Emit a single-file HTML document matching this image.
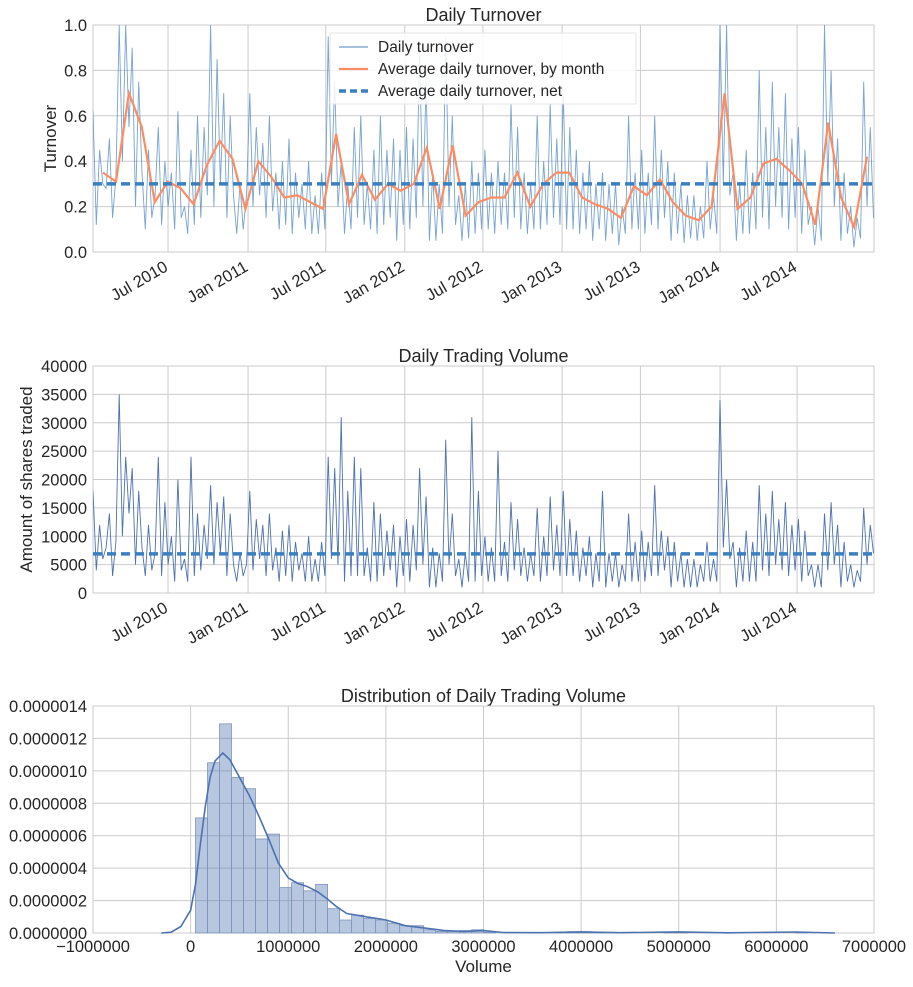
<!DOCTYPE html>
<html><head><meta charset="utf-8"><style>
body{margin:0;background:#fff;}
svg text{font-family:"Liberation Sans","DejaVu Sans",sans-serif;fill:#262626;}
</style></head><body>
<svg id="c" width="913" height="982" xmlns="http://www.w3.org/2000/svg"></svg>
<script>
const monthlyAvg=[.35,.31,.70,.55,.22,.31,.28,.21,.38,.49,.41,.19,.40,.33,.24,.25,.22,.19,.52,.21,.34,.23,.30,.27,.30,.46,.19,.47,.16,.22,.24,.24,.35,.20,.30,.35,.35,.24,.21,.19,.15,.29,.25,.32,.22,.16,.14,.20,.70,.19,.24,.39,.41,.36,.30,.12,.57,.24,.11,.42];
const netTurnover=0.30;
const netVolume=6900;
const dailyTurnover=[.62,.12,.45,.30,.28,.50,.15,.33,1.0,.40,1.0,.55,.90,.20,.75,.35,.10,.45,.15,.25,.55,.12,.40,.20,.35,.10,.62,.15,.20,.08,.45,.12,.60,.15,.55,.25,1.0,.20,.85,.30,.70,.15,.60,.25,.08,.30,.10,.25,.70,.20,.55,.25,.48,.15,.60,.18,.35,.10,.40,.12,.50,.08,.35,.15,.30,.10,.40,.08,.25,.08,.35,.10,.95,.30,.75,.20,.40,.08,.30,.10,.55,.15,.60,.12,.30,.10,.45,.08,.60,.12,.45,.15,.50,.05,.45,.12,.55,.10,.50,.15,.90,.20,.75,.05,.35,.05,.30,.08,.95,.20,.60,.12,.25,.05,.30,.06,.40,.08,.35,.10,.45,.10,.35,.08,.40,.12,.35,.10,.65,.15,.55,.10,.35,.08,.30,.10,.60,.10,.40,.12,.65,.15,.50,.12,.70,.10,.55,.10,.45,.08,.35,.10,.40,.05,.30,.10,.35,.05,.30,.08,.30,.03,.20,.08,.60,.10,.35,.10,.45,.08,.35,.12,.60,.10,.45,.15,.40,.05,.35,.08,.30,.04,.25,.06,.25,.05,.20,.06,.40,.10,.25,.08,1.0,.30,1.0,.25,.35,.05,.30,.08,.45,.08,.35,.10,.80,.15,.55,.10,.75,.20,.55,.15,.70,.10,.50,.15,.55,.08,.45,.12,.20,.03,.20,.05,1.0,.30,.80,.20,.50,.05,.35,.08,.20,.02,.15,.06,.75,.20,.55,.15];
const dailyVolume=[18000,4000,12000,6000,8000,14000,3000,9000,35000,10000,24000,14000,22000,5000,18000,8000,3000,12000,4000,7000,24000,3000,16000,5000,10000,2000,20000,4000,6000,2000,24000,3000,14000,4000,12000,6000,19000,5000,16000,7000,17000,3000,14000,5000,2000,7000,3000,5000,18000,4000,13000,6000,12000,3000,14000,4000,8000,2000,11000,3000,12000,2000,9000,4000,7000,2000,10000,2000,6000,2000,9000,3000,24000,6000,22000,5000,31000,2000,18000,3000,24000,3000,22000,3000,8000,2000,16000,2000,14000,3000,11000,4000,12000,1000,10000,3000,13000,2000,12000,4000,22000,5000,17000,1000,8000,1000,7000,2000,27000,5000,14000,3000,6000,1000,7000,2000,31000,2000,18000,3000,10000,2000,8000,2000,25000,3000,9000,2000,16000,4000,13000,3000,8000,2000,7000,3000,15000,2000,10000,3000,17000,4000,12000,3000,18000,3000,13000,3000,11000,2000,8000,3000,10000,1000,7000,2000,18000,1000,7000,2000,7000,1000,5000,2000,14000,2000,9000,2000,11000,2000,9000,3000,19000,3000,11000,4000,10000,1000,9000,2000,7000,1000,6000,1000,6000,1000,5000,2000,9000,2000,6000,2000,34000,8000,20000,6000,9000,1000,8000,2000,11000,2000,9000,2000,19000,4000,14000,3000,18000,5000,13000,4000,16000,3000,12000,4000,13000,2000,11000,3000,5000,1000,5000,1000,14000,4000,16000,5000,12000,1000,9000,2000,5000,1000,4000,2000,15000,5000,12000,7000];
const xTickLabels=["Jul 2010","Jan 2011","Jul 2011","Jan 2012","Jul 2012","Jan 2013","Jul 2013","Jan 2014","Jul 2014"];
const xTickMonths=[5.02,11.2,17.2,23.3,29.34,35.45,41.5,47.65,53.6];
const turnoverTicks=[0,0.2,0.4,0.6,0.8,1.0];
const volumeTicks=[0,5000,10000,15000,20000,25000,30000,35000,40000];
const histBinStart=50000, histBinWidth=123000;
const histDensity=[7.1e-7,10.5e-7,12.9e-7,9.6e-7,8.9e-7,5.8e-7,6.1e-7,2.8e-7,3.1e-7,2.6e-7,3.0e-7,1.5e-7,0.8e-7,1.1e-7,0.9e-7,0.8e-7,0.6e-7,0.45e-7,0.45e-7,0.2e-7,0.1e-7,0.1e-7,0.15e-7,0.2e-7,0.05e-7,0,0,0,0,0,0.05e-7,0.08e-7,0.08e-7,0.05e-7,0,0,0,0,0,0.05e-7,0.06e-7,0,0,0,0,0,0,0,0,0,0.06e-7];
const kdeX=[-300000,-200000,-100000,0,50000,100000,150000,200000,250000,330000,400000,500000,600000,700000,800000,900000,1000000,1100000,1200000,1300000,1400000,1500000,1600000,1800000,2000000,2200000,2400000,2600000,2800000,3000000,3200000,3600000,4000000,4400000,5000000,5500000,6200000,6600000];
const kdeY=[0,0.05e-7,0.4e-7,1.4e-7,3e-7,5.5e-7,7.8e-7,9.6e-7,10.6e-7,11.1e-7,10.7e-7,9.6e-7,8.5e-7,7.2e-7,5.8e-7,4.3e-7,3.4e-7,3.05e-7,2.85e-7,2.55e-7,2.1e-7,1.6e-7,1.2e-7,1.0e-7,0.8e-7,0.45e-7,0.3e-7,0.15e-7,0.1e-7,0.15e-7,0.03e-7,0.02e-7,0.07e-7,0.02e-7,0.07e-7,0.01e-7,0.06e-7,0];
const histXTicks=[-1000000,0,1000000,2000000,3000000,4000000,5000000,6000000,7000000];
const histYTicks=[0,2e-7,4e-7,6e-7,8e-7,10e-7,12e-7,14e-7];
const histYLabels=["0.0000000","0.0000002","0.0000004","0.0000006","0.0000008","0.0000010","0.0000012","0.0000014"];

const svg=document.getElementById('c');
const NS='http://www.w3.org/2000/svg';
function mk(tag,attrs,parent,text){const e=document.createElementNS(NS,tag);for(const k in attrs)e.setAttribute(k,attrs[k]);if(text!==undefined)e.textContent=text;(parent||svg).appendChild(e);return e;}
const L=93,R=874;
const xMonth=t=>103+t*12.95;
const dailyT=(i,n)=>-0.77+i*(59.5+0.77)/(n-1);

function panel(name,top,bottom,title){
  const g=mk('g',{});
  
  
  mk('rect',{x:L,y:top,width:R-L,height:bottom-top,fill:'#fff',stroke:'#cbcbcb','stroke-width':1},g);
  const t=mk('text',{x:(L+R)/2,y:top-4,'text-anchor':'middle','font-size':18},g,title);
  
  
  return g;
}
function timeXAxis(g,top,bottom){
  xTickMonths.forEach((m,i)=>{const x=xMonth(m);
    mk('line',{x1:x,x2:x,y1:top,y2:bottom,stroke:'#cbcbcb'},g);
    const t=mk('text',{x:x+1,y:bottom+18,'text-anchor':'end','font-size':16.5,transform:`rotate(-30 ${x+1} ${bottom+18})`},g,xTickLabels[i]);
    
    
  });
}
function yAxis(g,ticks,labels,yf){
  ticks.forEach((v,i)=>{const y=yf(v);
    mk('line',{x1:L,x2:R,y1:y,y2:y,stroke:'#cbcbcb'},g);
    const t=mk('text',{x:L-6,y:y+6,'text-anchor':'end','font-size':16.5},g,labels[i]);
    
    
  });
}
function clipRect(id,top,bottom){const d=mk('clipPath',{id});mk('rect',{x:L,y:top,width:R-L,height:bottom-top},d);}

// Panel 1
{const top=25,bottom=252;const yf=v=>bottom-v*(bottom-top);
 const g=panel('turnover-panel',top,bottom,'Daily Turnover');
 clipRect('cp1',top,bottom);
 yAxis(g,turnoverTicks,turnoverTicks.map(v=>v.toFixed(1)),yf);
 timeXAxis(g,top,bottom);
 const yl=mk('text',{x:56,y:(top+bottom)/2,'text-anchor':'middle','font-size':17,transform:`rotate(-90 56 ${(top+bottom)/2})`},g,'Turnover');
 
 const n=dailyTurnover.length;
 const d=mk('polyline',{points:dailyTurnover.map((v,i)=>xMonth(dailyT(i,n)).toFixed(1)+','+yf(v).toFixed(1)).join(' '),fill:'none',stroke:'#4a86c2','stroke-opacity':0.75,'stroke-width':0.9,'clip-path':'url(#cp1)'},g);
 
 const m=mk('polyline',{points:monthlyAvg.map((v,i)=>xMonth(i).toFixed(1)+','+yf(v).toFixed(1)).join(' '),fill:'none',stroke:'#fc8d62','stroke-width':2.2,'clip-path':'url(#cp1)'},g);
 
 const a=mk('line',{x1:L,x2:R,y1:yf(netTurnover),y2:yf(netTurnover),stroke:'#3a7fc0','stroke-width':3.5,'stroke-dasharray':'9,5'},g);
 
 const lg=mk('g',{},g);
 mk('rect',{x:330,y:33,width:306,height:71,fill:'#fff','fill-opacity':0.85,stroke:'#e6e6e6'},lg);
 const ent=[['Daily turnover','#4a86c2',1,null],['Average daily turnover, by month','#fc8d62',2.2,null],['Average daily turnover, net','#3a7fc0',3.5,'7,4']];
 ent.forEach((e,i)=>{const y=47+i*22;const ln=mk('line',{x1:339,x2:368,y1:y,y2:y,stroke:e[1],'stroke-width':e[2]},lg);if(e[3])ln.setAttribute('stroke-dasharray',e[3]);
  const t=mk('text',{x:378,y:y+5,'font-size':15.5},lg,e[0]);});
}
// Panel 2
{const top=366,bottom=593;const yf=v=>bottom-v/40000*(bottom-top);
 const g=panel('volume-panel',top,bottom,'Daily Trading Volume');
 clipRect('cp2',top,bottom);
 yAxis(g,volumeTicks,volumeTicks.map(String),yf);
 timeXAxis(g,top,bottom);
 const yl=mk('text',{x:32,y:(top+bottom)/2,'text-anchor':'middle','font-size':17,transform:`rotate(-90 32 ${(top+bottom)/2})`},g,'Amount of shares traded');
 
 const n=dailyVolume.length;
 const d=mk('polyline',{points:dailyVolume.map((v,i)=>xMonth(dailyT(i,n)).toFixed(1)+','+yf(v).toFixed(1)).join(' '),fill:'none',stroke:'#4c72b0','stroke-width':0.9,'clip-path':'url(#cp2)'},g);
 
 const a=mk('line',{x1:L,x2:R,y1:yf(netVolume),y2:yf(netVolume),stroke:'#3a7fc0','stroke-width':3.5,'stroke-dasharray':'9,5'},g);
 
}
// Panel 3
{const top=706,bottom=933;const xf=v=>L+(v+1e6)/8e6*(R-L);const yf=v=>bottom-v/14e-7*(bottom-top);
 const g=panel('histogram-panel',top,bottom,'Distribution of Daily Trading Volume');
 yAxis(g,histYTicks,histYLabels,yf);
 histXTicks.forEach(v=>{const x=xf(v);mk('line',{x1:x,x2:x,y1:top,y2:bottom,stroke:'#cbcbcb'},g);
  const t=mk('text',{x:x,y:bottom+19,'text-anchor':'middle','font-size':16.5},g,v<0?'\u22121000000':String(v));
  });
 const xl=mk('text',{x:(L+R)/2,y:972,'text-anchor':'middle','font-size':17},g,'Volume');
 
 histDensity.forEach((v,i)=>{if(v<=0)return;const x0=xf(histBinStart+i*histBinWidth),x1=xf(histBinStart+(i+1)*histBinWidth);
  const b=mk('rect',{x:x0,y:yf(v),width:x1-x0,height:bottom-yf(v),fill:'#4c72b0','fill-opacity':0.4,stroke:'#7f95bd','stroke-width':0.8},g);
  });
 const k=mk('polyline',{points:kdeX.map((v,i)=>xf(v).toFixed(1)+','+yf(kdeY[i]).toFixed(1)).join(' '),fill:'none',stroke:'#4c72b0','stroke-width':1.6,'stroke-linejoin':'round'},g);
 
}
</script>
</body></html>
